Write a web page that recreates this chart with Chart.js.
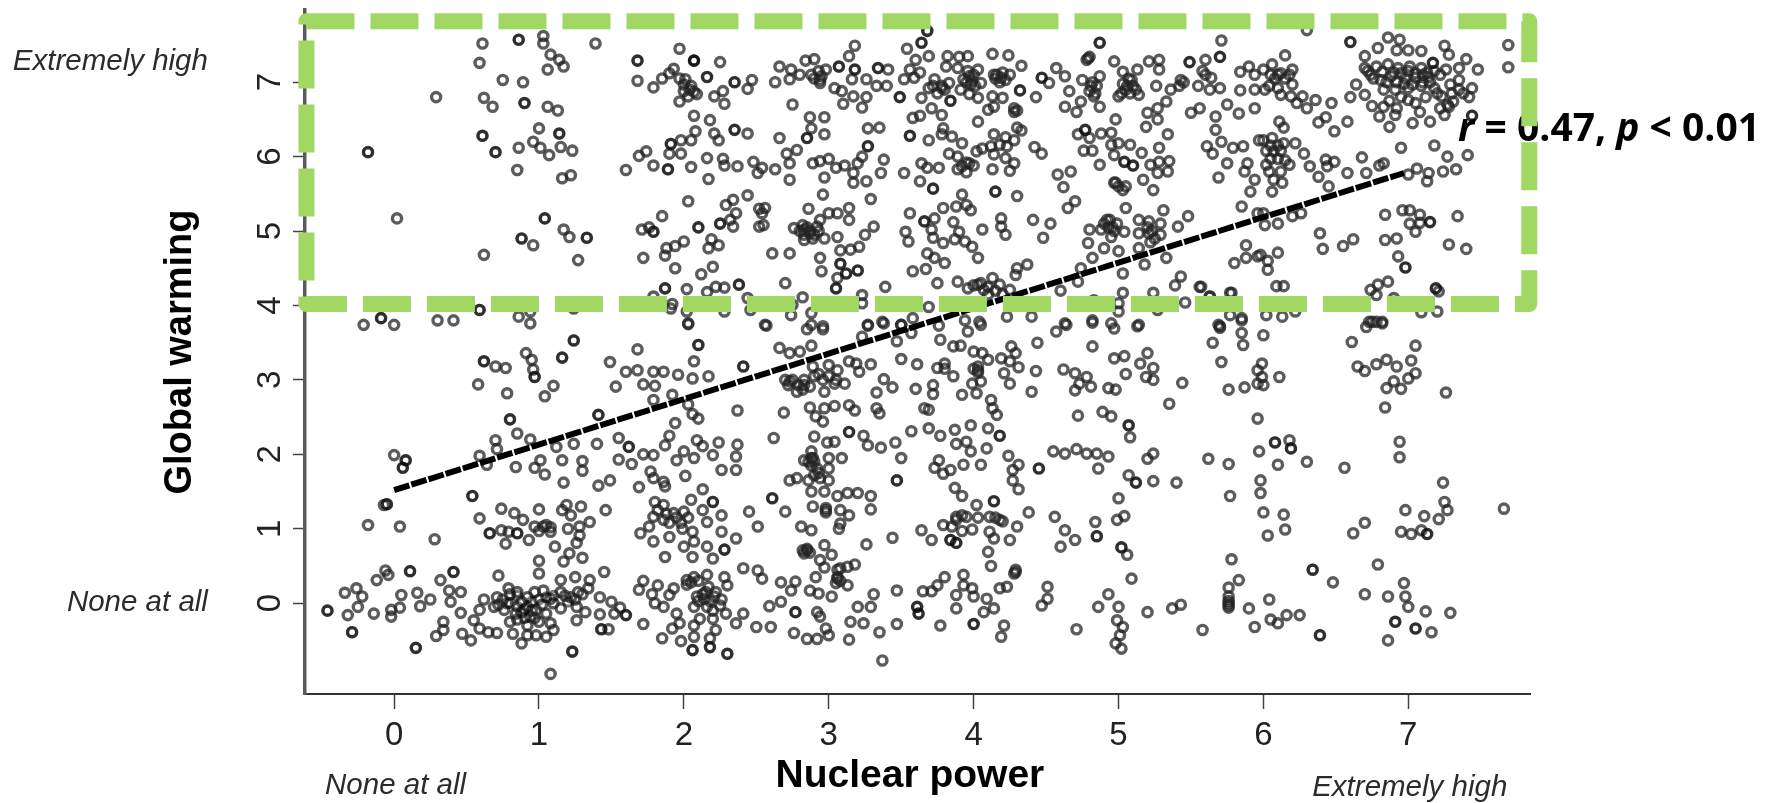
<!DOCTYPE html>
<html>
<head>
<meta charset="utf-8">
<title>Nuclear power vs global warming</title>
<script src="https://cdn.jsdelivr.net/npm/chart.js@4"></script>
<style>
  html, body { margin:0; padding:0; background:#fff; }
  canvas { display:block; }
</style>
</head>
<body>
<canvas id="chartScatter" width="1779" height="803"></canvas>
<script>
// ─── values: [nuclear power, global warming] ───
const xTicks = [0,1,2,3,4,5,6,7];
const yTicks = [0,1,2,3,4,5,6,7];
const xTitle = 'Nuclear power';
const yTitle = 'Global warming';

const trendX = [0, 6.97];
const trendY = [1.52, 5.78];

// dashed highlight box, in axis units
const boxX = [-0.605, 7.835];
const boxY = [4.02, 7.82];

const upperLeft = [[-.18,6.06],[.02,5.17],[.29,6.8],[.61,7.52],[.86,7.57],[1.03,7.62],[1.03,7.52],[1.39,7.52],[.59,7.26],[1.08,7.37],[1.14,7.3],[1.17,7.21],[1.06,7.17],[.75,7.03],[.89,7],[.62,6.79],[.68,6.67],[.9,6.72],[1.06,6.67],[1.13,6.62],[1,6.38],[.61,6.28],[1.14,6.31],[.96,6.2],[1.01,6.12],[.7,6.06],[.86,6.12],[1.07,6.02],[1.15,6.13],[1.23,6.08],[.85,5.82],[1.16,5.71],[1.22,5.75],[1.04,5.17],[.88,4.9],[.96,4.81],[1.17,5.02],[1.21,4.92],[1.33,4.91],[.62,4.68],[1.27,4.61],[.59,3.94],[-.21,3.74],[-.09,3.83],[0,3.74],[.3,3.8],[.41,3.8],[.86,3.85],[.94,3.92],[.94,3.76],[1.24,3.96]];

const upperBand2 = [[1.68,7.29],[1.68,7.02],[1.79,6.93],[1.85,7.05],[1.9,7.12],[1.93,7.18],[1.97,7.45],[2.07,7.29],[2.25,7.27],[2.16,7.07],[2.35,7],[2.01,7.04],[2.05,6.95],[2,6.88],[2.03,6.81],[2.09,6.84],[1.97,6.74],[2.21,6.81],[2.27,6.88],[2.28,6.71],[2.47,7.03],[2.44,6.91],[2.07,6.55],[2.18,6.49],[2.08,6.34],[2.35,6.36],[2.21,6.31],[2.24,6.22],[2.44,6.31],[2.05,6.22],[1.98,6.22],[1.91,6.17],[1.9,6.04],[1.98,6.04],[1.74,6.07],[1.69,6.01],[1.79,5.88],[1.89,5.83],[1.6,5.82],[2.05,5.86],[2.16,5.98],[2.27,5.97],[2.28,5.88],[2.37,5.87],[2.48,5.93],[2.17,5.7],[2.51,5.78],[2.03,5.4],[1.85,5.2],[1.71,5.02],[1.76,5.05],[1.79,4.99],[2.1,5.05],[2.25,5.1],[2.34,5.06],[2.29,5.35],[2.34,5.42],[2.44,5.48],[2.36,5.24],[2.32,5.15],[2.52,5.06],[2.52,5.3],[2,4.86],[1.94,4.8],[1.88,4.77],[1.87,4.67],[2.19,4.89],[2.24,4.81],[2.17,4.77],[1.72,4.64],[1.94,4.5],[2.12,4.42],[2.2,4.52],[1.87,4.23],[2.02,4.22],[2.16,4.18],[2.22,4.25],[2.28,4.24],[2.38,4.28],[2.44,4.1],[1.79,4.12],[1.92,4.02],[1.91,3.96],[2.28,3.92],[2.02,3.92],[2.03,3.76],[2.46,3.94]];

const upperBand3 = [[3.18,7.49],[3.14,7.35],[2.66,7.21],[2.63,7],[2.74,7.17],[2.8,7.1],[2.73,7.04],[2.84,7.29],[2.9,7.31],[2.88,7.1],[2.93,7.15],[2.98,7.17],[2.94,6.99],[3.07,7.21],[3.18,7.17],[3.16,7.04],[3.04,6.92],[3.09,6.88],[3.17,6.81],[3.26,7.04],[3.34,7.19],[3.41,7.17],[3.33,6.95],[3.4,6.95],[3.26,6.8],[3.23,6.66],[3.1,6.71],[2.75,6.7],[2.87,6.53],[2.97,6.53],[2.88,6.38],[2.97,6.3],[3.27,6.38],[3.35,6.39],[2.66,6.25],[2.85,6.25],[3.27,6.14],[2.78,6.09],[2.71,6.04],[2.73,5.91],[2.89,5.91],[2.94,5.94],[3,5.97],[3.23,6],[3.2,5.91],[3.38,5.96],[3.05,5.85],[3.11,5.88],[2.63,5.83],[2.54,5.85],[3.36,5.78],[2.73,5.69],[2.97,5.72],[3.17,5.78],[3.17,5.65],[3.26,5.67],[2.96,5.49],[3.29,5.43],[2.56,5.31],[2.54,5.24],[2.55,5.08],[2.86,5.3],[2.76,5.04],[2.83,5.02],[2.87,4.97],[2.92,5.06],[2.94,5.15],[3,5.24],[3.06,5.24],[3.14,5.31],[3.14,5.15],[2.83,4.88],[2.89,4.9],[2.97,4.9],[3.06,4.92],[3.31,5.06],[3.25,4.95],[3.21,4.79],[3.15,4.75],[3.08,4.74],[2.94,4.64],[2.61,4.7],[2.73,4.7],[3.08,4.56],[2.95,4.46],[3.12,4.43],[3.2,4.47],[3.06,4.37],[3.05,4.23],[2.7,4.3],[3.39,4.25],[3.23,4.14],[3.23,4.03],[2.82,4.11],[2.75,4.01],[2.88,3.9],[2.74,3.87],[2.88,3.74],[2.96,3.72],[2.56,3.74]];

const upperBand4 = [[3.49,6.8],[3.52,7.04],[3.59,7.06],[3.56,7.17],[3.63,7.13],[3.6,7.3],[3.69,7.35],[3.54,7.45],[3.64,7.53],[3.68,7.69],[3.82,7.35],[3.9,7.34],[3.96,7.35],[3.81,7.21],[4.13,7.38],[4.24,7.36],[4.33,7.22],[3.89,7.19],[3.96,7.15],[4.03,7.17],[3.73,7.04],[3.69,6.92],[3.75,6.85],[3.78,6.95],[3.83,6.99],[3.93,7.04],[3.98,6.97],[4.05,6.99],[4.14,7.1],[4.19,7.06],[4.25,7.1],[4.32,6.89],[3.64,6.79],[3.84,6.75],[3.91,6.9],[3.97,6.84],[4.03,6.79],[4.13,6.81],[4.2,6.79],[4.43,6.8],[3.71,6.65],[3.78,6.56],[3.58,6.52],[3.63,6.55],[4.1,6.63],[4.14,6.67],[4.03,6.47],[4.28,6.65],[4.3,6.39],[4.33,6.35],[3.79,6.38],[3.78,6.3],[3.56,6.28],[3.69,6.22],[3.85,6.27],[3.92,6.18],[4.14,6.3],[4.22,6.26],[4.28,6.22],[4.02,6.07],[4.06,6.11],[4.12,6.14],[4.18,6.16],[4.23,6.14],[3.83,6.04],[3.89,6],[3.97,5.91],[4.14,6.03],[4.22,5.98],[4.28,5.91],[3.64,5.91],[3.68,5.85],[3.76,5.85],[3.52,5.78],[3.89,5.83],[3.95,5.79],[4.13,5.83],[4.25,5.81],[4.42,6.13],[4.47,6.04],[3.63,5.67],[3.72,5.57],[4.15,5.53],[4.3,5.47],[3.92,5.49],[3.56,5.24],[3.66,5.13],[3.73,5.17],[3.79,5.31],[3.88,5.33],[3.95,5.35],[3.98,5.28],[3.86,5.12],[3.9,4.99],[3.71,5.02],[3.72,4.91],[3.53,4.99],[3.55,4.86],[3.79,4.84],[3.87,4.89],[3.94,4.86],[3.99,4.79],[4.06,5.02],[4.19,5.17],[4.19,5.06],[4.22,4.95],[4.41,5.15],[4.53,5.1],[4.48,4.91],[3.68,4.7],[3.73,4.64],[3.8,4.57],[4.03,4.64],[3.58,4.46],[3.67,4.49],[4.37,4.55],[4.3,4.5],[4.29,4.41],[3.89,4.32],[3.75,4.3],[4.03,4.28],[4.13,4.37],[4.07,4.21],[4.18,4.28],[4.25,4.21],[3.96,4.23],[3.69,3.98],[3.58,3.83],[3.5,3.74],[3.37,3.78],[3.27,3.74],[3.94,3.8],[4.04,3.78],[4.23,3.85],[4.4,3.85],[4.63,3.76]];

const upperBand5 = [[4.47,7.06],[4.52,6.99],[4.57,7.19],[4.63,7.08],[4.75,7.03],[4.87,7.53],[4.79,7.32],[4.81,6.95],[4.87,7.08],[4.66,6.88],[4.74,6.74],[4.83,6.81],[4.63,6.67],[4.71,6.6],[4.87,6.67],[4.97,7.28],[5.03,7.14],[5.06,6.95],[5.09,7.03],[5,6.81],[5.14,6.83],[5.13,7.17],[5.21,7.28],[5.28,7.3],[5.28,7.17],[5.26,6.95],[5.36,6.9],[5.43,7.03],[5.49,7.27],[5.6,7.3],[5.7,7.34],[5.71,7.56],[5.64,7.06],[5.55,6.95],[5.63,6.9],[5.7,6.92],[5.33,6.74],[5.27,6.65],[5.2,6.59],[5.27,6.5],[5.19,6.4],[4.98,6.5],[5.5,6.59],[5.56,6.65],[5.75,6.7],[5.83,6.58],[5.67,6.54],[5.67,6.36],[5.84,7.14],[5.9,7.21],[5.84,6.89],[5.94,7.1],[5.94,6.9],[5.94,6.65],[4.77,6.36],[4.72,6.3],[4.8,6.25],[4.88,6.31],[4.95,6.32],[4.76,6.08],[4.82,6.08],[4.95,6.16],[5,6.18],[5.08,6.16],[4.97,6.02],[5.16,6.05],[4.87,5.89],[5.04,5.93],[5.1,5.88],[5.34,6.3],[5.28,6.12],[5.35,5.94],[5.22,5.89],[5.28,5.93],[5.27,5.78],[5.34,5.8],[5.61,6.14],[5.71,6.2],[5.65,6.04],[5.79,6.12],[5.86,6.14],[5.75,5.91],[5.89,5.91],[5.97,6.22],[5.87,5.8],[5.94,5.69],[5.91,5.53],[5.69,5.72],[4.58,5.76],[4.67,5.8],[4.62,5.59],[4.97,5.65],[5.05,5.6],[5.17,5.69],[5.24,5.55],[4.7,5.4],[4.65,5.31],[5.05,5.31],[5.31,5.28],[5.48,5.2],[5.41,5.06],[5.85,5.33],[5.96,5.24],[4.8,5.02],[4.88,5.02],[4.94,5.15],[4.99,5.1],[4.95,4.92],[4.79,4.84],[4.9,4.77],[5.04,4.99],[5.14,5.15],[5.21,5.13],[5.14,4.97],[5.21,4.97],[5.29,5.1],[5.29,4.95],[5,4.73],[5.14,4.77],[4.82,4.64],[5.18,4.55],[5.33,4.64],[5.03,4.43],[4.74,4.5],[5.8,4.57],[5.88,4.64],[5.96,4.66],[5.88,4.81],[5.43,4.39],[5.39,4.27],[5.57,4.25],[5.03,4.17],[5,4.03],[5,3.92],[4.72,4.32],[4.6,4.2],[4.83,4.07],[5.46,4.04],[5.24,4.17],[5.63,4.12],[5.78,4.17],[5.77,3.87],[5.27,3.94],[5.14,3.74],[4.82,3.8],[4.95,3.76],[5.7,3.72],[5.85,3.8]];

const upperRight = [[6.06,7.24],[6.15,7.36],[6.2,7.17],[6,7.17],[6.1,7.1],[6.01,6.9],[6.12,6.83],[6.2,6.97],[6.19,6.81],[6.27,6.81],[6.23,6.72],[6.3,6.65],[6.36,6.76],[6.47,6.72],[6.3,7.7],[6.6,7.54],[6.11,6.47],[6.14,6.39],[6.38,6.46],[6.43,6.53],[6.49,6.34],[6.58,6.47],[6,6.22],[6.06,6.25],[6.14,6.18],[6.22,6.18],[6.28,6.04],[6.07,6.07],[6.02,5.89],[6.18,5.89],[6.32,5.87],[6.43,5.96],[6.49,5.93],[6.44,5.87],[6.38,5.73],[6.68,5.99],[6.83,5.91],[6.8,5.88],[6.95,6.12],[7.18,6.15],[7.27,6],[7.41,6.02],[6.58,5.78],[6.71,5.78],[7,5.76],[7.06,5.84],[7.14,5.78],[7.24,5.8],[7.33,5.83],[7.13,5.67],[6.07,5.69],[6.13,5.65],[6.06,5.53],[6.45,5.6],[6,5.24],[6.2,5.2],[6.26,5.24],[6.01,5.08],[6.1,5.1],[6.84,5.22],[6.96,5.28],[7.01,5.28],[7.08,5.22],[7.01,5.1],[7.08,5.11],[7.15,5.12],[7.05,4.99],[7.34,5.2],[6.39,4.97],[6.62,4.89],[6.55,4.8],[6.41,4.76],[6.84,4.88],[6.92,4.9],[7.28,4.82],[7.4,4.76],[6.93,4.66],[6.98,4.51],[5.98,4.68],[6.1,4.71],[6.03,4.48],[6.03,4.6],[6.09,4.26],[6.14,4.26],[6.86,4.32],[6.79,4.28],[6.74,4.21],[6.78,4.14],[7.19,4.23],[7.21,4.19],[6.9,4.1],[7.2,3.92],[7.09,3.91],[6.78,3.78],[6.73,3.78],[6.82,3.78],[6.13,3.85],[6.22,3.92],[6.02,3.87],[5.77,4.17],[5.69,3.74],[5.85,3.83],[5.56,4.25],[5.63,4.12]];

const topRightCluster = [[7.69,7.5],[7.69,7.2],[6.86,7.6],[6.94,7.57],[6.79,7.46],[6.92,7.43],[7,7.43],[7.09,7.42],[7.25,7.49],[7.28,7.37],[6.7,7.35],[7.17,7.26],[7.4,7.31],[7.48,7.17],[6.7,7.19],[6.78,7.21],[6.86,7.24],[6.93,7.19],[7.01,7.21],[7.09,7.19],[7.26,7.17],[7.35,7.19],[6.74,7.1],[6.81,7.03],[6.88,7.08],[6.98,7.06],[7.05,7.06],[7.14,7.07],[7.35,7.03],[7.44,6.92],[6.64,6.97],[6.7,6.83],[6.6,6.8],[6.83,6.9],[6.91,6.9],[7,6.92],[7.09,6.95],[7.18,6.92],[7.29,6.97],[7.38,6.85],[7.42,6.8],[6.75,6.68],[6.83,6.67],[6.92,6.65],[7,6.76],[7.23,6.81],[7.31,6.74],[7.25,6.56],[6.8,6.54],[6.91,6.56],[7.08,6.6],[7.03,6.45],[7.15,6.47],[6.87,6.4],[7.44,6.55],[7.28,6.67]];

const lowerLeft = [[1.24,3.53],[.91,3.36],[1.16,3.3],[.95,3.27],[.62,3.25],[.7,3.18],[.77,3.16],[.96,3.14],[.97,3.04],[.58,2.94],[.78,2.82],[1.1,2.92],[1.04,2.78],[1.68,3.41],[1.49,3.24],[2.1,3.47],[2.03,3.75],[2.07,3.25],[1.6,3.11],[1.68,3.13],[1.79,3.11],[1.86,3.11],[1.96,3.07],[2.06,3.02],[2.17,3.05],[2.41,3.18],[1.53,2.91],[1.72,2.94],[1.8,2.92],[1.79,2.73],[1.92,2.8],[2.03,2.67],[2.37,2.59],[1.41,2.53],[2.06,2.54],[2.1,2.48],[.8,2.47],[.85,2.28],[.7,2.19],[.94,2.2],[1.94,2.42],[1.9,2.25],[1.87,2.12],[1.55,2.22],[1.62,2.1],[1.4,2.14],[1.24,2.14],[1.12,2.1],[2.09,2.19],[2.24,2.16],[2.37,2.13],[2.13,2.11],[2,2.04],[1.95,1.92],[1.79,1.99],[1.72,2],[2.2,1.99],[2.07,1.95],[2.36,1.97],[2.36,1.79],[2.26,1.79],[1.55,1.93],[1.64,1.87],[1.16,1.92],[1.3,1.91],[1.3,1.78],[1.01,1.92],[.97,1.82],[1.04,1.73],[.84,1.83],[.64,1.86],[.59,1.98],[.71,2.07],[0,1.99],[.08,1.92],[.06,1.82],[1.17,1.62],[1.41,1.58],[1.49,1.65],[1.69,1.56],[1.77,1.77],[1.79,1.68],[1.86,1.63],[1.87,1.57],[2.01,1.71],[2.13,1.53],[.54,1.44],[-.05,1.33],[-.07,1.32],[-.18,1.05],[.04,1.03],[.28,.86]];

const lowerBand1 = [[.74,1.27],[.59,1.14],[.83,1.21],[1,1.26],[.89,1.12],[.66,.94],[.74,.98],[.79,.96],[.85,.94],[.77,.8],[.93,.85],[.97,1.03],[1.03,1.03],[1.08,.96],[1.16,1.25],[1.22,1.18],[1.19,1.32],[1.29,1.3],[1.35,1.09],[1.46,1.25],[1.2,1],[1.28,1.03],[1.26,.81],[1.11,.76],[1.21,.67],[1.3,.61],[1.17,.56],[1.28,.91],[1.8,1.36],[1.86,1.32],[2.05,1.39],[2.2,1.36],[2.13,1.25],[2.26,1.18],[2.45,1.23],[2.51,1.03],[1.76,1.03],[1.7,.94],[1.79,1.16],[1.86,1.12],[1.93,1.21],[2,1.23],[1.99,1],[2.06,.96],[2.16,1.09],[2.26,.96],[1.9,.89],[1.79,.83],[2.07,.83],[2,.76],[1.87,.62],[2.06,.62],[2.16,.76],[2.28,.72],[2.36,.87],[2.2,.6]];

const bottomLeft = [[1,.57],[1,.4],[.11,.43],[.41,.42],[.72,.37],[-.06,.44],[-.04,.38],[-.12,.31],[.32,.31],[1.45,.42],[1.72,.3],[1.25,.35],[1.15,.31],[1.35,.31],[2.07,.35],[2.02,.31],[2.16,.38],[2.28,.35],[2.41,.47],[2.51,.44],[-.34,.14],[-.26,.2],[-.22,.09],[-.25,-.05],[-.32,-.16],[-.46,-.1],[-.14,-.14],[-.02,-.09],[-.02,-.18],[.05,.11],[.04,-.06],[.16,.14],[.18,-.04],[.25,.05],[.38,.17],[.46,.15],[.39,.02],[.46,-.13],[-.29,-.39],[.15,-.6],[.34,-.25],[.34,-.36],[.29,-.44],[.47,-.41],[.53,-.5],[.55,-.23],[.59,-.09],[.62,.05],[.59,-.34],[.65,-.39],[.71,-.4],[.79,.2],[.71,.08],[.78,0],[.85,.15],[.92,.08],[.97,.15],[1.03,.17],[1.08,.06],[1.15,.15],[1.22,.08],[1.27,.15],[1.34,.2],[1.42,.08],[.69,-.05],[.76,-.09],[.84,-.14],[.92,-.05],[.98,-.09],[1.05,-.14],[1.15,-.07],[1.26,-.05],[1.32,-.12],[1.26,-.23],[.94,-.18],[.8,-.25],[.92,-.3],[1,-.25],[1.08,-.27],[1.1,-.36],[.82,-.41],[.92,-.43],[.98,-.43],[1.05,-.45],[.88,-.54],[1.5,.02],[1.56,-.06],[1.6,-.16],[1.42,-.15],[1.52,-.14],[1.43,-.35],[1.48,-.35],[1.23,-.65],[1.08,-.95],[1.69,.18],[1.82,.24],[1.78,.12],[1.8,0],[1.86,-.05],[1.9,.11],[1.93,.2],[2.09,.09],[2.17,.22],[2.3,.24],[2.14,.06],[2.21,.09],[2.07,-.05],[2.16,-.05],[2.25,-.03],[1.95,-.14],[2.11,-.21],[2.29,-.14],[2.41,-.14],[2.36,-.27],[2.5,-.32],[1.72,-.28],[1.97,-.27],[1.92,-.34],[1.85,-.47],[1.98,-.51],[2.07,-.3],[2.2,-.21],[2.22,-.36],[2.18,-.47],[2.07,-.45],[2.06,-.63],[2.18,-.59],[2.3,-.68]];

const lowerBand3 = [[2.85,3.68],[2.96,3.68],[2.57,3.73],[3.27,3.73],[3.38,3.76],[3.5,3.74],[3.23,3.58],[3.47,3.52],[3.57,3.63],[3.76,3.73],[3.96,3.65],[4.05,3.74],[3.77,3.54],[2.66,3.43],[2.73,3.36],[2.8,3.38],[2.88,3.46],[3.29,3.21],[3.5,3.28],[3.61,3.21],[3.86,3.45],[3.91,3.46],[4,3.38],[4.06,3.36],[4.26,3.45],[4.29,3.36],[4.19,3.29],[4.25,3.25],[4.1,3.27],[4.44,3.5],[4.57,3.65],[4.64,3.74],[4.82,3.45],[4.97,3.69],[5.13,3.72],[4.82,3.77],[5.7,3.7],[5.85,3.63],[5.65,3.5],[5.86,3.47],[5.2,3.36],[5.04,3.32],[4.97,3.29],[5.15,3.22],[5.24,3.16],[5.71,3.24],[5.05,3.08],[5.19,3.04],[5.24,3],[5.44,2.96],[2.73,2.98],[2.78,2.84],[2.83,3],[2.89,3.18],[2.96,3],[3,3.2],[3.06,3.13],[3.14,3.25],[3.19,3.22],[3.21,3.11],[3.11,2.95],[3.04,2.95],[2.87,2.91],[2.97,2.84],[2.82,2.87],[3.38,3.01],[3.33,2.83],[3.44,2.9],[3.6,2.88],[3.72,2.93],[3.72,2.81],[3.86,3.05],[3.8,3.22],[3.75,3.16],[3.92,2.8],[3.99,2.95],[4.05,2.98],[4.02,2.82],[4.03,3.13],[4.21,3.09],[4.25,2.95],[4.31,3.17],[4.43,3.12],[4.62,3.14],[4.7,3.09],[4.78,3.04],[4.73,2.95],[4.81,2.91],[4.7,2.86],[4.4,2.84],[4.93,2.89],[4.98,2.87],[2.69,2.56],[2.87,2.63],[2.97,2.62],[2.91,2.51],[2.96,2.44],[3.04,2.65],[3.14,2.66],[3.18,2.59],[3.33,2.62],[3.35,2.55],[3.66,2.62],[3.69,2.6],[4.12,2.73],[4.13,2.62],[4.16,2.53],[4.72,2.52],[4.89,2.57],[4.95,2.51],[5.35,2.68],[5.07,2.39],[5.08,2.23],[5.96,2.48],[5.76,2.87],[5.87,2.9],[5.96,3.13],[5.96,2.95]];

const lowerBand4 = [[2.62,2.22],[2.9,2.24],[2.99,2.16],[3.04,2.17],[3.14,2.3],[3.24,2.25],[3.27,2.12],[3.36,2.09],[3.46,2.16],[3.5,1.95],[3.57,2.31],[3.69,2.35],[3.77,2.25],[3.87,2.33],[3.98,2.39],[4.1,2.35],[4.18,2.25],[3.88,2.14],[3.95,2.17],[3.98,2.04],[4.09,2.08],[4.24,1.98],[4.31,1.86],[4.27,1.79],[4.27,1.65],[4.31,1.53],[4.05,1.86],[3.93,1.86],[3.84,1.79],[3.79,1.74],[3.73,1.82],[3.76,1.92],[4.45,1.81],[4.55,2.04],[4.63,2.01],[4.71,2.07],[4.78,2.01],[4.85,2.01],[4.93,1.97],[4.86,1.81],[5.24,2.01],[5.2,1.94],[5.62,1.94],[5.76,1.87],[5.97,2.04],[2.88,2.04],[2.83,1.92],[2.89,1.95],[3,1.95],[3.09,1.95],[2.92,1.81],[3,1.81],[2.73,1.65],[2.78,1.68],[2.86,1.65],[2.94,1.68],[3,1.65],[2.88,1.5],[2.97,1.5],[3.06,1.44],[3.13,1.48],[3.2,1.48],[3.29,1.44],[2.61,1.41],[3.47,1.65],[2.89,1.3],[2.98,1.25],[3.08,1.25],[3.14,1.18],[3.29,1.26],[2.7,1.23],[3.08,1.07],[3.07,1],[2.81,1.03],[2.88,.98],[5.07,1.72],[5.12,1.62],[5.24,1.64],[5.4,1.62],[5,1.41],[5.77,1.44],[5.98,1.65],[5.98,1.48],[3.87,1.55],[3.92,1.44],[4.14,1.37],[4.02,1.32],[4.38,1.22],[4.56,1.16],[3.88,1.16],[3.95,1.16],[4.03,1.15],[4.11,1.16],[4.18,1.12],[3.79,1.05],[3.85,1.03],[3.92,.97],[3.99,.99],[3.64,.98],[3.71,.85],[4.11,.96],[4.14,.87],[4.3,1.03],[4.25,.85],[3.84,.85],[3.88,.81],[3.44,.88],[3.26,.79],[4.84,1.09],[4.99,1.12],[5.04,1.17],[4.63,.98],[4.7,.85],[4.6,.76],[4.85,.9],[5.02,.75],[5.06,.65]];

const bottomMiddle = [[4.1,.69],[4.12,.5],[5.78,.59],[5.09,.33],[2.97,.78],[2.85,.71],[2.82,.71],[3.02,.65],[2.94,.58],[2.97,.48],[3.18,.52],[3.08,.47],[3.13,.49],[2.91,.35],[3.06,.33],[3.13,.24],[2.67,.28],[2.77,.29],[2.74,.17],[2.54,.33],[2.87,.17],[2.93,.13],[3.02,.09],[3.31,.12],[3.47,.17],[2.67,.02],[2.59,-.04],[3.29,-.05],[3.2,-.05],[3.8,.35],[3.75,.24],[3.65,.16],[3.71,.16],[3.93,.38],[3.88,.11],[3.93,.24],[4,.09],[3.99,.2],[3.88,-.07],[4.09,.06],[4.14,-.07],[4.07,-.12],[4.18,.2],[4.23,.22],[4.29,.42],[4.51,.22],[4.47,-.03],[4.51,.06],[3.61,-.05],[3.62,-.14],[4.93,.12],[5,-.05],[4.86,-.05],[4.99,-.23],[5.03,-.32],[5.01,-.43],[5.02,-.61],[4.98,-.54],[4.71,-.35],[5.2,-.12],[5.37,-.07],[5.43,-.02],[5.58,-.36],[5.76,0],[5.76,.09],[5.76,.21],[5.83,.31],[5.9,-.07],[5.94,-.32],[2.77,-.12],[2.92,-.12],[2.94,-.18],[2.98,-.34],[2.6,-.32],[2.76,-.4],[2.85,-.48],[2.92,-.48],[3,-.43],[3.14,-.49],[3.15,-.25],[3.24,-.27],[3.35,-.39],[3.47,-.28],[3.77,-.3],[4,-.28],[4.21,-.3],[4.19,-.45],[3.37,-.77]];

const lowerRight = [[6,3.6],[6.61,3.51],[7.05,3.46],[6.71,3.71],[6.75,3.78],[6.82,3.76],[5.99,3.22],[6.11,3.04],[5.99,3.04],[6,2.93],[6.65,3.18],[6.7,3.12],[6.78,3.21],[6.85,3.27],[6.92,3.18],[7.02,3.26],[7.05,3.09],[7,3.02],[6.9,2.98],[6.85,2.89],[6.95,2.88],[7.26,2.83],[6.84,2.63],[6.94,2.17],[6.94,1.96],[6.08,2.16],[6.18,2.19],[6.19,2.08],[6.1,1.86],[6.3,1.9],[6.56,1.82],[6.14,1.19],[6.15,.99],[6.03,.91],[6,1.22],[6.7,1.08],[6.62,.94],[6.98,1.25],[7.11,1.17],[7.21,1.13],[7.24,1.62],[7.25,1.36],[7.27,1.25],[7.66,1.27],[6.95,.96],[7.02,.93],[7.09,.98],[7.13,.93],[6.34,.45],[6.48,.28],[6.79,.52],[6.97,.27],[6.04,.05],[6.7,.12],[6.86,.09],[6.98,.09],[7,-.05],[7.12,-.11],[7.29,-.13],[6.91,-.25],[7.05,-.34],[7.16,-.39],[6.86,-.5],[6.39,-.43],[6.25,-.16],[6.16,-.16],[6.1,-.27],[6.05,-.22]];

// overlapping responses inside the dark clumps, estimated
const denseClumps = [[.75,.05],[.8,.12],[.88,.02],[.95,-.1],[.88,-.12],[1.02,-.02],[1.1,0],[1.18,.1],[1.25,.05],[1.3,.12],[.72,-.02],[.85,-.22],[.97,-.2],[2.1,.03],[2.13,.12],[2.18,.03],[2.22,.15],[2.26,.05],[2.05,.28],[2.1,.3],[2.02,.25],[2.15,.15],[2.2,-.1],[1.88,1.2],[1.9,1.08],[1.95,1.15],[1.98,1.08],[2.03,1.15],[1.82,1.25],[2,6.97],[2.04,6.9],[2.07,6.87],[1.97,7.05],[2.9,7.05],[2.95,7.08],[2.94,7.03],[3.8,6.9],[3.78,6.92],[3.72,6.95],[3.97,7.08],[3.99,7.02],[4,7.1],[3.95,7],[4.01,6.95],[4.16,7.1],[4.2,7.13],[4.15,7.05],[4.18,7],[4.22,7.03],[4.28,6.6],[4.3,6.62],[4.82,7],[4.85,6.95],[4.8,6.88],[4.84,6.85],[5.03,6.98],[5.05,6.9],[5.08,6.85],[5.1,6.95],[5.02,6.85],[5.12,6.9],[5.07,7.05],[4.78,7.3],[4.8,7.34],[5.45,7],[5.42,6.95],[5.6,7.1],[5.58,7.15],[4.9,5.1],[4.93,5.05],[4.96,5.05],[4.92,5.15],[4.97,5],[5.2,5.05],[5.23,5],[2.8,5],[2.83,4.95],[2.85,5.05],[2.87,5],[2.82,5.08],[2.9,4.95],[2.93,5],[4.98,5.65],[5,5.6],[5.03,5.55],[3.92,5.87],[3.95,5.92],[4,5.88],[6.72,7.15],[6.76,7.05],[6.82,7.14],[6.9,7.13],[6.95,7.12],[7,7.15],[7.05,7.12],[7.1,7.1],[7.13,7.13],[7.18,7.15],[7.22,7.1],[6.85,7],[6.92,7],[6.97,6.98],[7.03,6.97],[7.1,7],[7.15,7],[7.2,6.85],[7.27,6.7],[7.22,6.65],[7.3,6.85],[7.35,6.9],[6.87,6.75],[6.95,6.8],[7.05,6.72],[7.12,6.8],[6.05,7.1],[6.08,7.05],[6.12,7.12],[6.15,7.05],[6.18,7.1],[6.04,6.95],[6.1,6.92],[6.05,6.15],[6.1,6.15],[6.12,6.08],[6.02,6.08],[6.05,5.97],[6.1,5.97],[6.15,5.95],[6.04,5.8],[6.12,5.8],[5.76,.03],[5.76,-.03],[5.76,-.06],[2.7,3],[2.72,2.93],[2.75,3],[2.79,2.93],[2.83,2.93],[2.9,3.05],[2.93,3.08],[3,3.05],[3.05,3],[2.85,.73],[2.87,.68],[2.83,.67],[2.98,1.28],[2.98,1.22],[3.92,1.18],[3.88,1.12],[4.15,1.15],[4.2,1.1],[4.03,3.1],[4.03,3.18],[4,3.15],[3.8,3.15],[4.28,.4],[4.29,.45],[2.88,1.95],[2.86,1.9],[2.9,1.9],[2.88,1.85],[2.93,1.75],[2.9,1.72],[3.06,.35],[3.08,.3],[3.06,.45],[3.05,.27],[1.05,1.05],[1,.97],[1.08,1.02],[4.1,4.15],[4.05,4.3],[4,4.27],[4.1,4.25],[4.15,4.2],[4.2,4.15],[5.25,4.9],[5.22,4.85]];

// rings that print darker in the source (overplotted responses)
const darkRings = [[-.18,6.06],[.86,7.57],[.9,6.72],[.61,6.28],[.7,6.06],[1.14,6.31],[1.04,5.17],[.88,4.9],[1.33,4.91],[.59,3.94],[-.09,3.83],[1.68,7.29],[2.07,7.29],[2.07,7.29],[2.35,7],[2.16,7.07],[2.35,6.36],[1.91,6.17],[1.89,5.83],[1.79,4.99],[2.1,5.05],[2.25,5.1],[1.87,4.23],[2.38,4.28],[3.49,6.8],[3.56,6.28],[3.64,7.53],[3.68,7.69],[3.07,7.21],[3.18,7.17],[3.27,6.14],[3.34,7.19],[2.85,6.25],[4.47,7.06],[4.87,7.53],[4.32,6.89],[3.84,6.75],[3.72,5.57],[4.15,5.53],[3.66,5.13],[3.05,4.23],[3.12,4.43],[3.2,4.47],[3.08,4.56],[4.77,6.36],[5.1,5.88],[5.04,5.93],[5.49,7.27],[5.7,7.34],[7.17,7.26],[6.6,7.54],[7.44,6.55],[6.98,4.51],[7.19,4.23],[7.15,5.12],[1.24,3.53],[1.16,3.3],[.62,3.25],[.97,3.04],[2.1,3.47],[2.41,3.18],[.8,2.47],[1.41,2.53],[1.62,2.1],[.08,1.92],[.06,1.82],[.54,1.44],[-.05,1.33],[.66,.94],[.85,.94],[2.2,1.36],[2.28,.72],[.11,.43],[.41,.42],[-.46,-.1],[.15,-.6],[1.23,-.65],[-.29,-.39],[2.3,-.68],[2.18,-.59],[2.06,-.63],[1.43,-.35],[1.6,-.16],[3.14,2.3],[4.45,1.81],[3.47,1.65],[2.61,1.41],[4.14,1.37],[2.77,-.12],[3.61,-.05],[3.62,-.14],[4,-.28],[4.85,.9],[3.88,.81],[3.84,.85],[5.02,.75],[5.07,2.39],[4.18,2.25],[5.12,1.62],[6.34,.45],[6.39,-.43],[7.13,.93],[6.91,-.25],[7.05,-.34],[6.08,2.16],[6.19,2.08],[.8,0],[.85,-.05],[.9,-.08],[.95,.02],[1,.05],[1.05,.08],[1.1,.1],[1.2,.02],[.9,-.2],[.85,.1]];

const greyRings = [...upperLeft, ...upperBand2, ...upperBand3, ...upperBand4, ...upperBand5, ...upperRight,
  ...topRightCluster, ...lowerLeft, ...lowerBand1, ...bottomLeft, ...lowerBand3, ...lowerBand4, ...bottomMiddle, ...lowerRight, ...denseClumps];

const toPoints = list => list.map(p => ({ x:p[0], y:p[1] }));

// side labels and the stat note, placed in axis units
const sideLabels = [
  { text:'Extremely high', x:-1.285, y:7.28 },
  { text:'None at all',    x:-1.285, y:0 },
];
const bottomLabels = [
  { text:'None at all',    x:0.01, y:-2.45 },
  { text:'Extremely high', x:7.01, y:-2.48 },
];

const sketchPlugin = {
  id:'sketch',
  beforeDraw(chart) {
    chart.ctx.filter = 'blur(0.7px)';
  },
  afterDatasetsDraw(chart) {
    const { ctx, scales:{ x, y } } = chart;
    ctx.save();
    ctx.fillStyle = '#2b2b2b';
    ctx.font = 'italic 29.5px "Liberation Sans"';
    ctx.textBaseline = 'middle';
    ctx.textAlign = 'right';
    sideLabels.forEach(l => ctx.fillText(l.text, x.getPixelForValue(l.x), y.getPixelForValue(l.y)));
    ctx.textAlign = 'center';
    bottomLabels.forEach(l => ctx.fillText(l.text, x.getPixelForValue(l.x), y.getPixelForValue(l.y)));

    // x title sits left of the plot centre in the source
    ctx.fillStyle = '#000';
    ctx.font = 'bold 39px "Liberation Sans"';
    ctx.fillText(xTitle, x.getPixelForValue(3.56), 776);

    // r = 0.47, p < 0.01
    const parts = [['italic bold','r'],['bold',' = 0.47, '],['italic bold','p'],['bold',' < 0.01']];
    let px = 1458;
    ctx.textAlign = 'left';
    parts.forEach(([w, t]) => {
      ctx.font = w + ' 39px "Open Sans"';
      ctx.fillText(t, px, 130);
      px += ctx.measureText(t).width;
    });
    ctx.restore();
  },
  afterDraw(chart) {
    const { ctx, scales:{ x, y } } = chart;
    ctx.save();
    ctx.filter = 'none';
    const l = x.getPixelForValue(boxX[0]), r = x.getPixelForValue(boxX[1]);
    const t = y.getPixelForValue(boxY[1]), b = y.getPixelForValue(boxY[0]);
    ctx.strokeStyle = '#a1d763';
    ctx.lineWidth = 16;
    ctx.lineJoin = 'round';
    ctx.setLineDash([48,16]);
    ctx.beginPath();
    ctx.moveTo(l,t); ctx.lineTo(r,t); ctx.lineTo(r,b); ctx.lineTo(l,b); ctx.closePath();
    ctx.stroke();
    ctx.restore();
  }
};

new Chart(document.getElementById('chartScatter'), {
  type:'scatter',
  data:{
    datasets:[
      { type:'line', label:'Fit', data:trendX.map((v,i) => ({ x:v, y:trendY[i] })),
        borderColor:'#000', borderWidth:6, borderDash:[16,2], pointRadius:0, fill:false, tension:0 },
      { label:'Dark', data:toPoints(darkRings), pointRadius:4.5, pointBorderWidth:3.2,
        pointBackgroundColor:'transparent', pointBorderColor:'rgba(0,0,0,.5)' },
      { label:'Responses', data:toPoints(greyRings), pointRadius:4.6, pointBorderWidth:3.4,
        pointBackgroundColor:'transparent', pointBorderColor:'rgba(35,35,35,.74)' },
    ]
  },
  plugins:[sketchPlugin],
  options:{
    responsive:false,
    animation:false,
    layout:{ padding:{ top:10, right:249, bottom:0, left:0 } },
    plugins:{ legend:{ display:false }, tooltip:{ enabled:false } },
    scales:{
      x:{
        type:'linear', min:-0.615, max:7.84,
        afterBuildTicks:s => { s.ticks = xTicks.map(v => ({ value:v })); },
        afterFit:s => { s.height = 109; s.paddingLeft = 0; s.paddingRight = 0; },
        border:{ color:'#333', width:2 },
        grid:{ drawOnChartArea:false, drawTicks:true, tickLength:15, tickColor:'#444', tickWidth:1.5 },
        ticks:{ color:'#222', padding:7, maxRotation:0, font:{ family:'"Liberation Sans"', size:33 } },
      },
      y:{
        type:'linear', min:-1.22, max:7.97,
        afterBuildTicks:s => { s.ticks = yTicks.map(v => ({ value:v })); },
        afterFit:s => { s.width = 305; s.paddingTop = 0; s.paddingBottom = 0; },
        border:{ color:'#5a5a5a', width:3.5 },
        grid:{ drawOnChartArea:false, drawTicks:true, tickLength:12, tickColor:'#444', tickWidth:1.5 },
        ticks:{ color:'#222', padding:13, minRotation:90, maxRotation:90, crossAlign:'center',
          font:{ family:'"Liberation Sans"', size:33 } },
        title:{ display:true, text:yTitle, color:'#000', padding:{ top:162, bottom:0 },
          font:{ family:'"Liberation Sans"', size:38, weight:'bold', lineHeight:1 } }
      }
    }
  }
});
</script>
</body>
</html>
